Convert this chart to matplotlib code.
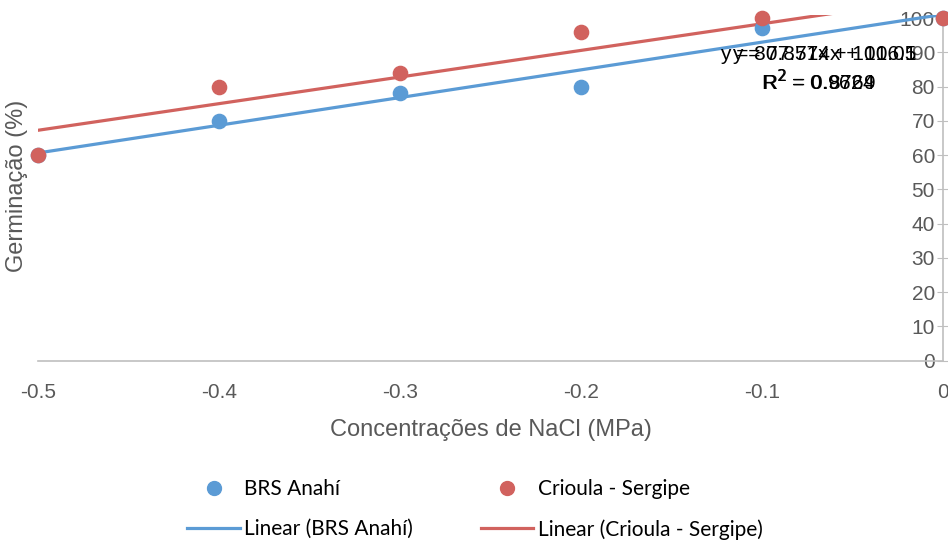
import matplotlib.pyplot as plt
import numpy as np
from matplotlib.lines import Line2D

# data
nacl = [-0.5, -0.4, -0.3, -0.2, -0.1, 0.0]
brs_anahi = [60, 70, 78, 80, 97, 100]
crioula = [60, 80, 84, 96, 100, 100]
y_ticks = [0, 10, 20, 30, 40, 50, 60, 70, 80, 90, 100]
x_ticks = [-0.5, -0.4, -0.3, -0.2, -0.1, 0.0]
x_ticklabels = ['-0.5', '-0.4', '-0.3', '-0.2', '-0.1', '0']

blue = '#5B9BD5'
red = '#D1625E'
gray = '#595959'

plt.rcParams['font.family'] = ['Liberation Sans', 'DejaVu Sans']

fig = plt.figure(figsize=(9.48, 5.4), dpi=100)
ax = fig.add_axes([0.040, 0.332, 0.955, 0.641])

x = np.array(nacl)
xx = np.linspace(-0.5, 0.0, 100)


def fit(y):
    y = np.array(y, dtype=float)
    m, b = np.polyfit(x, y, 1)
    r2 = np.corrcoef(x, y)[0, 1] ** 2
    return m, b, r2


m1, b1, r1 = fit(brs_anahi)
m2, b2, r2 = fit(crioula)

ax.plot(xx, m1 * xx + b1, color=blue, lw=2.3, zorder=2)
ax.plot(xx, m2 * xx + b2, color=red, lw=2.3, zorder=2)
ax.scatter(x, brs_anahi, s=105, color=blue, zorder=3, clip_on=False)
ax.scatter(x, crioula, s=105, color=red, zorder=3, clip_on=False)

ax.set_xlim(-0.5, 0.0)
ax.set_ylim(0, 101)
ax.spines['left'].set_position(('data', 0))
ax.spines['top'].set_visible(False)
ax.spines['right'].set_visible(False)
ax.spines['left'].set_color('#BFBFBF')
ax.spines['bottom'].set_color('#BFBFBF')
ax.spines['bottom'].set_linewidth(1.2)
ax.spines['left'].set_linewidth(1.2)

ax.set_yticks(y_ticks)
ax.set_xticks(x_ticks)
ax.set_xticklabels(x_ticklabels)
ax.tick_params(axis='y', direction='inout', length=8, color='#BFBFBF',
               labelsize=15, labelcolor=gray, pad=2)
ax.tick_params(axis='x', length=0, labelsize=15, labelcolor=gray, pad=16)

ax.set_xlabel('Concentrações de NaCl (MPa)', fontsize=17, color=gray, labelpad=12)
fig.text(0.018, 0.655, 'Germinação (%)', rotation=90, fontsize=17,
         color=gray, ha='center', va='center')

# trendline equations (overlapping, as in the original)
for m, b, r in [(m1, b1, r1), (m2, b2, r2)]:
    ax.text(0.97, 0.885, 'y = %.5gx + %.5g' % (m, b), transform=ax.transAxes,
            ha='right', va='center', fontsize=15, color='black')
    ax.text(0.925, 0.805, 'R$^2$ = %.4f' % r, transform=ax.transAxes,
            ha='right', va='center', fontsize=15, color='black')

handles = [
    Line2D([], [], marker='o', ls='none', color=blue, markersize=10),
    Line2D([], [], color=blue, lw=2.3),
    Line2D([], [], marker='o', ls='none', color=red, markersize=10),
    Line2D([], [], color=red, lw=2.3),
]
labels = ['BRS Anahí', 'Linear (BRS Anahí)',
          'Crioula - Sergipe', 'Linear (Crioula - Sergipe)']
fig.legend(handles, labels, ncol=2, frameon=False,
           loc='upper left', bbox_to_anchor=(0.178, 0.147),
           prop={'family': ['Lato', 'DejaVu Sans'], 'size': 15},
           handlelength=2.5, handletextpad=0.2, columnspacing=3.3,
           labelspacing=0.95)

fig.savefig('out.png', dpi=100)
